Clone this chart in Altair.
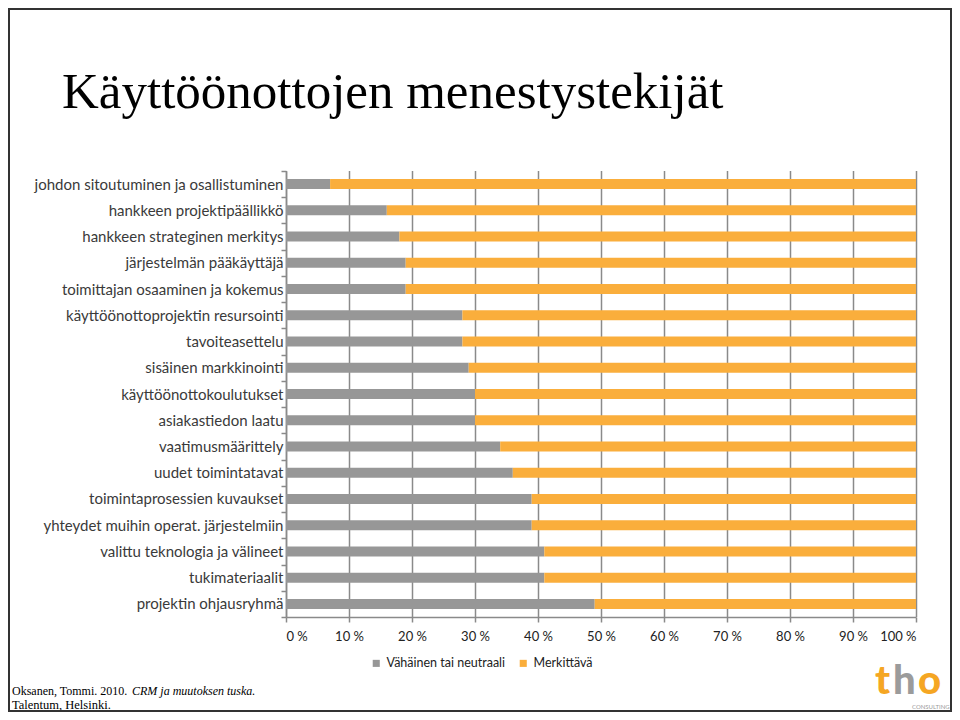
import altair as alt
import pandas as pd

categories = [
    "johdon sitoutuminen ja osallistuminen",
    "hankkeen projektipäällikkö",
    "hankkeen strateginen merkitys",
    "järjestelmän pääkäyttäjä",
    "toimittajan osaaminen ja kokemus",
    "käyttöönottoprojektin resursointi",
    "tavoiteasettelu",
    "sisäinen markkinointi",
    "käyttöönottokoulutukset",
    "asiakastiedon laatu",
    "vaatimusmäärittely",
    "uudet toimintatavat",
    "toimintaprosessien kuvaukset",
    "yhteydet muihin operat. järjestelmiin",
    "valittu teknologia ja välineet",
    "tukimateriaalit",
    "projektin ohjausryhmä",
]
vahainen = [7, 16, 18, 19, 19, 28, 28, 29, 30, 30, 34, 36, 39, 39, 41, 41, 49]
merkittava = [93, 84, 82, 81, 81, 72, 72, 71, 70, 70, 66, 64, 61, 61, 59, 59, 51]
series = ["Vähäinen tai neutraali", "Merkittävä"]
colors = ["#979797", "#FAAE3C"]
x_ticks = [0, 10, 20, 30, 40, 50, 60, 70, 80, 90, 100]

rows = []
for c, a, b in zip(categories, vahainen, merkittava):
    rows.append({"cat": c, "series": series[0], "value": a, "ord": 0})
    rows.append({"cat": c, "series": series[1], "value": b, "ord": 1})
df = pd.DataFrame(rows)

FONT = "Lato"
AXC = "#8a8a8a"

xscale = alt.Scale(domain=[0, 100], nice=False)

grid = alt.Chart(pd.DataFrame({"t": x_ticks})).mark_rule(
    color=AXC, strokeWidth=1.5, xOffset=0.5
).encode(x=alt.X("t:Q", scale=xscale), y=alt.value(0), y2=alt.value(446))

bars = alt.Chart(df).mark_bar(size=10).encode(
    y=alt.Y("cat:N", sort=categories,
            scale=alt.Scale(paddingInner=0, paddingOuter=0),
            axis=alt.Axis(title=None, tickBand="extent", tickSize=5, labelPadding=-2,
                          labelFontSize=15, labelColor="#3a3a3a", labelFont=FONT,
                          domainColor=AXC, tickColor=AXC, grid=False,
                          labelLimit=400)),
    x=alt.X("value:Q", stack="zero", scale=xscale,
            axis=alt.Axis(title=None, values=x_ticks, labelExpr="datum.value + ' %'",
                          grid=False, domainColor=AXC,
                          tickColor=AXC, tickSize=5, labelPadding=8,
                          labelFontSize=13, labelColor="#222222", labelFont=FONT)),
    color=alt.Color("series:N", scale=alt.Scale(domain=series, range=colors),
                    legend=alt.Legend(title=None, orient="none", direction="horizontal",
                                      legendX=84, legendY=486, symbolType="square",
                                      symbolSize=50, symbolStrokeWidth=0,
                                      labelFontSize=12.5, labelFont=FONT,
                                      labelColor="#222222", columnPadding=11,
                                      labelOffset=4)),
    order=alt.Order("ord:Q"),
)


def txt(s, x, y, size, color="#000000", font="Liberation Serif", style="normal",
        weight="normal", align="left"):
    return alt.Chart(pd.DataFrame({"t": [s]})).mark_text(
        align=align, baseline="alphabetic", fontSize=size, font=font,
        fontStyle=style, fontWeight=weight, color=color
    ).encode(text="t:N", x=alt.value(x), y=alt.value(y))


title = txt("Käyttöönottojen menestystekijät", -224, -63, 51)
foot1 = txt("Oksanen, Tommi. 2010.", -274, 524, 12)
foot1i = txt("CRM ja muutoksen tuska.", -154, 524, 12, style="italic")
foot2 = txt("Talentum, Helsinki.", -274, 538, 12.5)

logo_t = txt("t", 589, 523, 40, color="#F5A623", font="Lato", weight=900)
logo_h = txt("h", 607, 523, 40, color="#9B9B9B", font="Lato", weight=900)
logo_o = txt("o", 632, 523, 40, color="#F5A623", font="Lato", weight=900)
logo_c = txt("CONSULTING", 626, 538, 6, color="#9B9B9B", font="Lato")

frame_df = pd.DataFrame({"a": [0]})
fr = dict(color="#333333", strokeWidth=2)
f_top = alt.Chart(frame_df).mark_rule(**fr).encode(
    x=alt.value(-278), x2=alt.value(666), y=alt.value(-162))
f_bot = alt.Chart(frame_df).mark_rule(**fr).encode(
    x=alt.value(-278), x2=alt.value(666), y=alt.value(540))
f_left = alt.Chart(frame_df).mark_rule(**fr).encode(
    x=alt.value(-277), y=alt.value(-163), y2=alt.value(541))
f_right = alt.Chart(frame_df).mark_rule(**fr).encode(
    x=alt.value(665), y=alt.value(-163), y2=alt.value(541))

chart = alt.layer(
    grid, bars, title, foot1, foot1i, foot2, logo_t, logo_h, logo_o, logo_c,
    f_top, f_bot, f_left, f_right
).properties(
    width=630, height=446,
    padding={"left": 278, "top": 163, "right": 36, "bottom": 95},
    autosize=alt.AutoSizeParams(type="none"),
    background="white",
).configure_view(stroke=None).configure_axis(domainWidth=1.5, tickWidth=1.5)

chart.save("out.html", embed_options={"renderer": "svg", "actions": False})
